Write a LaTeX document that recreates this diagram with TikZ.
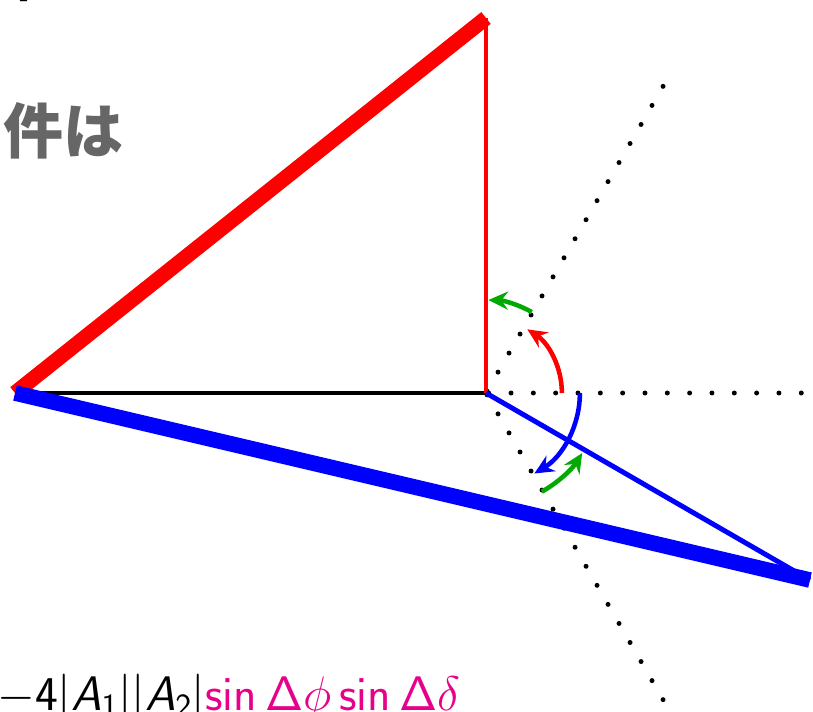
\documentclass[tikz,border=0pt]{standalone}
\usepackage{fix-cm}
\usepackage[no-math]{fontspec}
\newfontfamily\jpfont{Noto Sans CJK JP}
\usetikzlibrary{arrows.meta}
\definecolor{hlpink}{RGB}{230,0,138}
\definecolor{arcgreen}{RGB}{0,170,0}
\DeclareMathAlphabet{\mathsfit}{OT1}{cmss}{m}{sl}

\begin{document}
\begin{tikzpicture}[>={Stealth[length=6.5mm,width=6mm,inset=2.2mm]}, line width=4.7pt,
    dots/.style={line width=4.7pt, line cap=round, dash pattern=on 0pt off 7.333mm, dash phase=6.633mm},
    turn/.style={->, line width=4.3pt}]
                \useasboundingbox (-16.2,-10.633) rectangle (10.9,13.1);

                \coordinate (O) at (0,0);
                \coordinate (A) at (-15.7,0);
                \coordinate (T) at (0,12.5);
                \coordinate (B) at (-30:12.47);

                \draw[dots, dash pattern=on 0pt off 7.443mm, dash phase=6.55mm] (O) -- (10.55,0);
                \draw[dots] (O) -- (60:11.83);
                \draw[dots] (O) -- (-60:11.83);

                \draw (A) -- (O);
                \draw[red] (O) -- (T);
                \draw[red, line width=14.3pt] (A) -- (T);
                \draw[blue] (O) -- (B);
                \draw[blue, line width=14.8pt] (A) -- (B);

                \draw[turn, red] (0:2.53) arc[start angle=0, end angle=57, radius=2.53];
                \draw[turn, arcgreen] (60.5:3.1) arc[start angle=60.5, end angle=88.5, radius=3.1];
                \draw[turn, blue] (0:3.13) arc[start angle=0, end angle=-59, radius=3.13];
                \draw[turn, arcgreen] (-60.5:3.78) arc[start angle=-60.5, end angle=-32, radius=3.78];

                \node[anchor=south east, inner sep=0, font=\sffamily\fontsize{42.7}{50}\selectfont] (br) at (-15.07,12.967) {]};
                \node[anchor=base west, inner sep=0, text=black!60, font=\jpfont\bfseries\fontsize{56.9}{60}\selectfont] (jp) at (-16.15,8.0) {件は};
                \node[anchor=base west, inner sep=0, font=\fontsize{46}{53}\selectfont] (eq) at (-16.37,-10.567)
                    {$-\mathsf{4}|\mathsfit{A}_{\mathsf{1}}||\mathsfit{A}_{\mathsf{2}}|\textcolor{hlpink}{\mathop{\mathsf{sin}}\nolimits\mathsf{\Delta}\phi\mathop{\mathsf{sin}}\nolimits\mathsf{\Delta}\delta}$};
            \end{tikzpicture}
\end{document}
